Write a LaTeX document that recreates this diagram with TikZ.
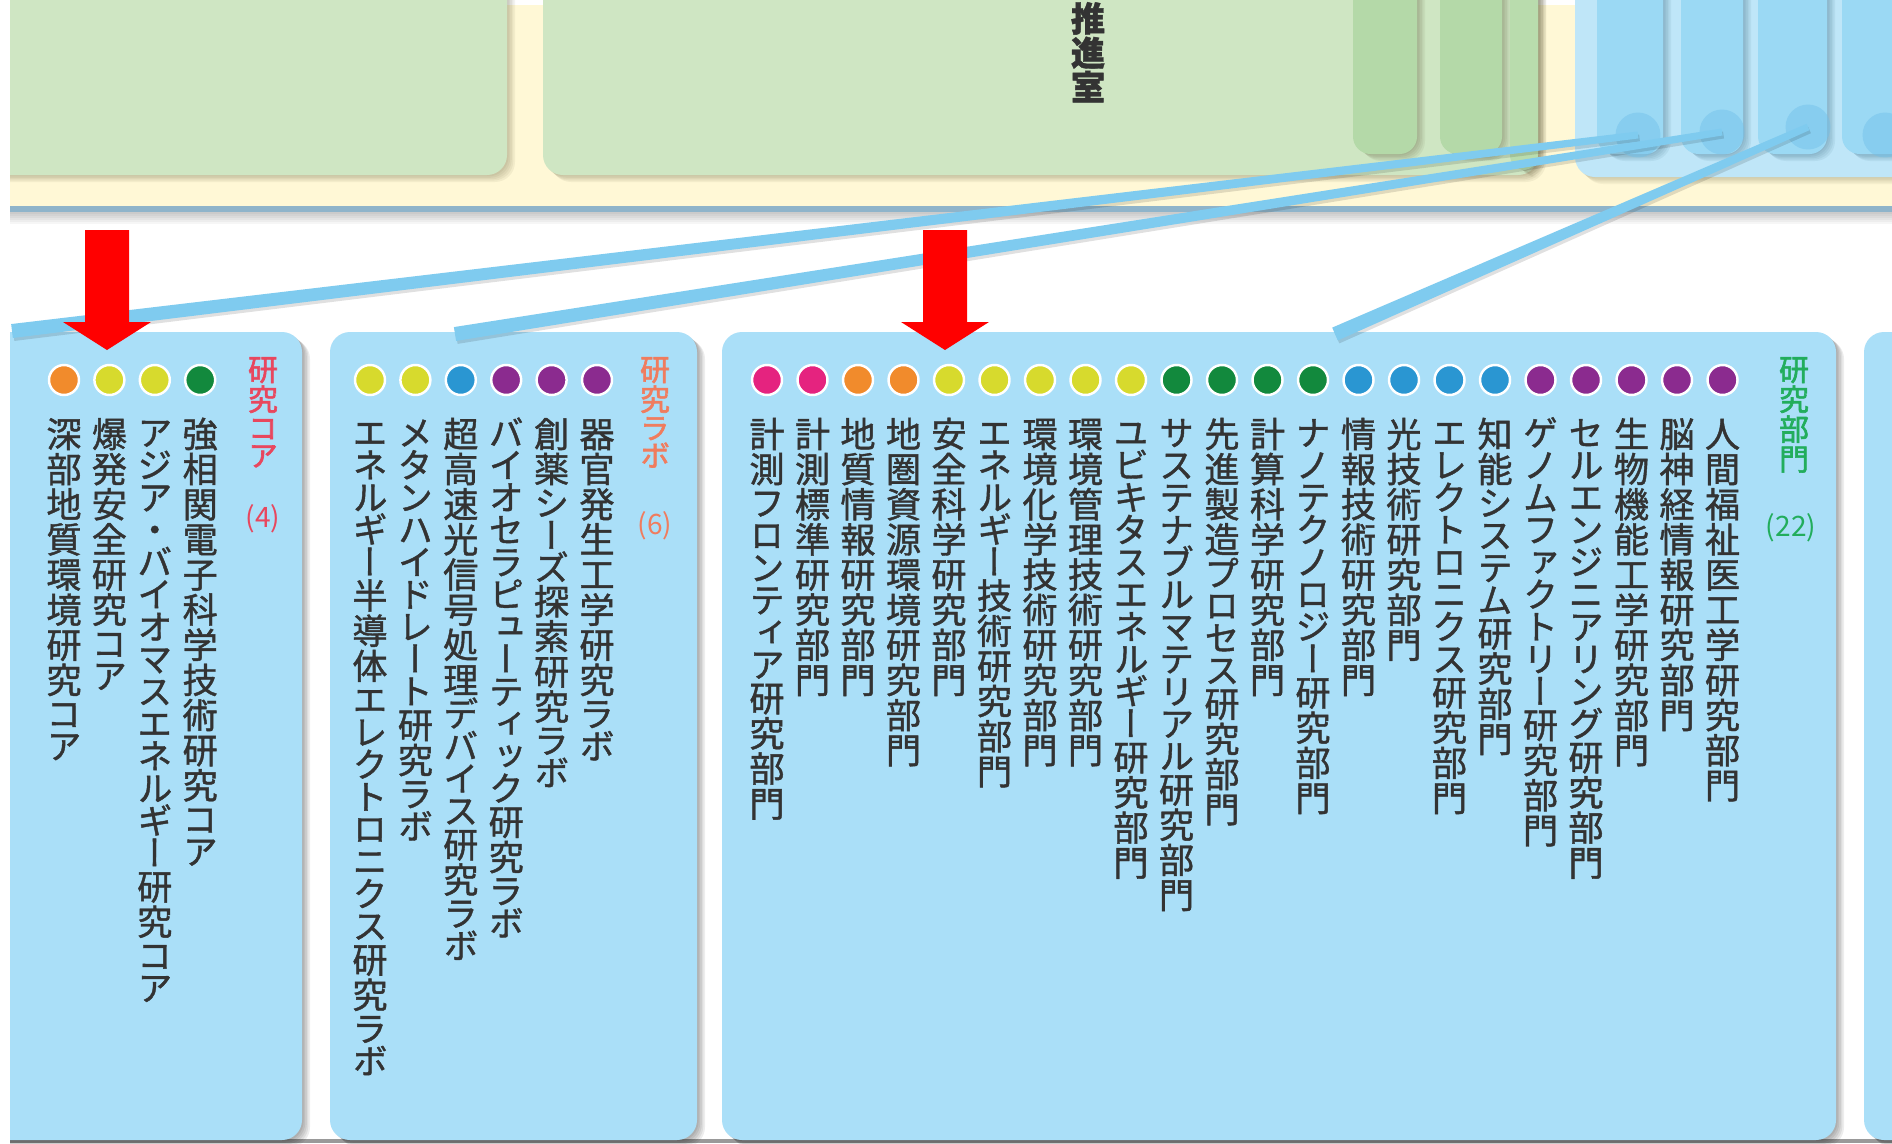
\documentclass[tikz,border=0pt]{standalone}
\usepackage{fontspec}
\usetikzlibrary{calc}
\newfontfamily\jp{Noto Sans CJK JP}
\newfontfamily\jpv[Script=CJK,RawFeature=+vert,FakeBold=1.2]{Noto Sans CJK JP}
\newfontfamily\jpvb[Script=CJK,RawFeature=+vert,FakeBold=2]{Noto Sans CJK JP}

\definecolor{bgyellow}{HTML}{FFF8D6}
\definecolor{bandline}{HTML}{8FB4CA}
\definecolor{grnbox}{HTML}{CFE6C3}
\definecolor{grncard}{HTML}{B4D9A8}
\definecolor{olive}{HTML}{5E5A3A}
\definecolor{bluebox}{HTML}{BFE6F8}
\definecolor{bluecard}{HTML}{9BD9F4}
\definecolor{blueshade}{HTML}{3F6F88}
\definecolor{blobblue}{HTML}{6FC0EA}
\definecolor{topblue}{HTML}{6DB9E7}
\definecolor{toptan}{HTML}{F5CD98}
\definecolor{panelblue}{HTML}{AADFF8}
\definecolor{connblue}{HTML}{7FCBEF}
\definecolor{txt}{HTML}{333333}
\definecolor{cpink}{HTML}{E5237F}
\definecolor{corange}{HTML}{F18B2C}
\definecolor{cyellow}{HTML}{D7DA2D}
\definecolor{cgreen}{HTML}{12893D}
\definecolor{cblue}{HTML}{2A96D2}
\definecolor{cpurple}{HTML}{8B2B8F}
\definecolor{hred}{HTML}{E8475E}
\definecolor{hsalmon}{HTML}{F07C5E}
\definecolor{hgreen}{HTML}{22AD5C}
\definecolor{arrowred}{HTML}{FF0000}

\ExplSyntaxOn
\tl_new:N \l_tatetext_tl
\dim_new:N \l_tatecell_dim
\NewDocumentCommand\tate{m}
  {
    \tl_set:Nx \l_tatetext_tl {#1}
    \vbox
      {
        \offinterlineskip
        \tl_map_inline:Nn \l_tatetext_tl
          {
            \int_compare:nTF { "30A0 < `##1 < "3100 }
              { \dim_set:Nn \l_tatecell_dim { 0.92em } }
              { \dim_set:Nn \l_tatecell_dim { 1em } }
            \vbox to \l_tatecell_dim
              {
                \skip_vertical:n { 0.5\l_tatecell_dim + 0.38em }
                \hbox to 1em { \hss \smash{##1} \hss }
                \vss
              }
          }
      }
  }
\ExplSyntaxOff

\newcommand\softshadow[6]{% color, opacity, x1,y1,x2,y2
  \foreach \k in {1,...,5}{\fill[#1, opacity=#2, rounded corners=0.4cm] (#3+\k*1.6,#4+\k*1.4) rectangle (#5+\k*1.6,#6+\k*1.4);}}
\newcommand\conn[2]{%
  \fill[black, opacity=0.12] ($(#1)!0.07cm!90:(#2)+(1.5,3)$) -- ($(#2)!0.14cm!-90:(#1)+(1.5,3)$) -- ($(#2)!0.14cm!90:(#1)+(1.5,3)$) -- ($(#1)!0.07cm!-90:(#2)+(1.5,3)$) -- cycle;
  \fill[connblue] ($(#1)!0.07cm!90:(#2)$) -- ($(#2)!0.14cm!-90:(#1)$) -- ($(#2)!0.14cm!90:(#1)$) -- ($(#1)!0.07cm!-90:(#2)$) -- cycle;}

\tikzset{
  kdot/.style={circle, fill=#1, draw=white, line width=1.4pt, minimum size=0.6cm, inner sep=0pt},
  vcol/.style={anchor=north, inner sep=0pt, text=txt, font=\jpv\fontsize{20}{20}\selectfont},
  vhead/.style={anchor=north, inner sep=0pt, text=#1, font=\jpvb\fontsize{17}{17}\selectfont},
  cnt/.style={inner sep=0pt, text=#1, font=\jp\fontsize{16}{16}\selectfont},
  panel/.style={fill=panelblue, rounded corners=0.4cm},
  blob/.style={circle, fill=blobblue, opacity=0.45, minimum size=0.9cm, inner sep=0pt},
  redarrow/.style={fill=arrowred},
}

\begin{document}
\begin{tikzpicture}[x=0.02cm,y=-0.02cm]
\useasboundingbox (0,0) rectangle (1892,1143);
\fill[white] (0,0) rectangle (1892,1143);
\begin{scope}
\clip (10,0) rectangle (1892,1143);
% ---- top cut-off shapes
\fill[topblue, rounded corners=0.3cm] (785,-40) rectangle (933,5);
\fill[topblue, rounded corners=0.3cm] (1038,-40) rectangle (1173,5);
\fill[toptan] (1306,-40) rectangle (1515,6);
% ---- yellow band
\fill[bgyellow] (0,5) rectangle (1892,207);
\foreach \k in {1,...,6} \fill[black, opacity=0.035] (0,212) rectangle (1892,212+\k*2);
\fill[bandline] (0,206) rectangle (1892,212);
% ---- green boxes
\softshadow{olive}{0.07}{-30}{-40}{507}{175}
\fill[grnbox, rounded corners=0.4cm] (-30,-40) rectangle (507,175);
\softshadow{olive}{0.07}{543}{-40}{1538}{175}
\fill[grnbox, rounded corners=0.4cm] (543,-40) rectangle (1538,175);
\softshadow{olive}{0.08}{1353}{-40}{1417}{154}
\fill[grncard, rounded corners=0.35cm] (1353,-40) rectangle (1417,154);
\softshadow{olive}{0.08}{1440}{-40}{1502}{154}
\fill[grncard, rounded corners=0.35cm] (1440,-40) rectangle (1502,154);
\softshadow{olive}{0.08}{1510}{-40}{1538}{170}
\fill[grncard!80!grnbox, rounded corners=0.3cm] (1510,-40) rectangle (1538,170);
% ---- blue box
\softshadow{olive}{0.06}{1575}{-40}{1920}{177}
\fill[bluebox, rounded corners=0.4cm] (1575,-40) rectangle (1920,177);
\foreach \a/\b in {1597/1663, 1681/1743, 1758/1827, 1842/1910}{
  \softshadow{blueshade}{0.09}{\a}{-40}{\b}{154}
  \fill[bluecard, rounded corners=0.35cm] (\a,-40) rectangle (\b,154);
}
\node[blob] (blob1) at (1638,135) {};
\node[blob] (blob2) at (1722,132) {};
\node[blob] (blob3) at (1808,127) {};
\node[blob] (blob4) at (1885,135) {};
% ---- title fragment
\node[anchor=north, inner sep=0pt, text=txt, font=\jpv\bfseries\fontsize{19.5}{19.5}\selectfont] (suishin) at (1088,1) {\tate{推進室}};
% ---- bottom line
\fill[black!40] (0,1139) rectangle (1892,1143);
% ---- panels
\softshadow{black}{0.07}{-30}{332}{302}{1140}
\fill[panel] (-30,332) rectangle (302,1140);
\softshadow{black}{0.07}{330}{332}{697}{1140}
\fill[panel] (330,332) rectangle (697,1140);
\softshadow{black}{0.07}{722}{332}{1836}{1140}
\fill[panel] (722,332) rectangle (1836,1140);
\softshadow{black}{0.07}{1864}{332}{1960}{1140}
\fill[panel] (1864,332) rectangle (1960,1140);
\coordinate (pA) at (12,331);
\coordinate (pB) at (455,334);
\coordinate (pC) at (1335,334);
% ---- connectors
\conn{blob1.center}{pA}
\conn{blob2.center}{pB}
\conn{blob3.center}{pC}
% ---- red arrows
\fill[redarrow] (85,230) -- (129,230) -- (129,322) -- (151,322) -- (107,350) -- (63,322) -- (85,322) -- cycle;
\fill[redarrow] (923,230) -- (967,230) -- (967,322) -- (989,322) -- (945,350) -- (901,322) -- (923,322) -- cycle;
% ---- panel 1: research cores
\foreach \i/\col/\lbl in {0/corange/深部地質環境研究コア, 1/cyellow/爆発安全研究コア, 2/cyellow/アジア・バイオマスエネルギー研究コア, 3/cgreen/強相関電子科学技術研究コア}{
  \node[kdot=\col] (pa-d\i) at (64+45.4*\i,380) {};
  \node[vcol] (pa-t\i) at (64+45.4*\i,416) {\tate{\lbl}};
}
\node[vhead=hred] (pa-head) at (263,354) {\tate{研究コア}};
\node[cnt=hred] (pa-cnt) at (263,519) {(4)};
% ---- panel 2: research labs
\foreach \i/\col/\lbl in {0/cyellow/エネルギー半導体エレクトロニクス研究ラボ, 1/cyellow/メタンハイドレート研究ラボ, 2/cblue/超高速光信号処理デバイス研究ラボ, 3/cpurple/バイオセラピューティック研究ラボ, 4/cpurple/創薬シーズ探索研究ラボ, 5/cpurple/器官発生工学研究ラボ}{
  \node[kdot=\col] (pb-d\i) at (370+45.4*\i,380) {};
  \node[vcol] (pb-t\i) at (370+45.4*\i,416) {\tate{\lbl}};
}
\node[vhead=hsalmon] (pb-head) at (655,354) {\tate{研究ラボ}};
\node[cnt=hsalmon] (pb-cnt) at (655,526) {(6)};
% ---- panel 3: research departments
\foreach \i/\col/\lbl in {0/cpink/計測フロンティア研究部門, 1/cpink/計測標準研究部門, 2/corange/地質情報研究部門, 3/corange/地圏資源環境研究部門, 4/cyellow/安全科学研究部門, 5/cyellow/エネルギー技術研究部門, 6/cyellow/環境化学技術研究部門, 7/cyellow/環境管理技術研究部門, 8/cyellow/ユビキタスエネルギー研究部門, 9/cgreen/サステナブルマテリアル研究部門, 10/cgreen/先進製造プロセス研究部門, 11/cgreen/計算科学研究部門, 12/cgreen/ナノテクノロジー研究部門, 13/cblue/情報技術研究部門, 14/cblue/光技術研究部門, 15/cblue/エレクトロニクス研究部門, 16/cblue/知能システム研究部門, 17/cpurple/ゲノムファクトリー研究部門, 18/cpurple/セルエンジニアリング研究部門, 19/cpurple/生物機能工学研究部門, 20/cpurple/脳神経情報研究部門, 21/cpurple/人間福祉医工学研究部門}{
  \node[kdot=\col] (pc-d\i) at (767+45.5*\i,380) {};
  \node[vcol] (pc-t\i) at (767+45.5*\i,416) {\tate{\lbl}};
}
\node[vhead=hgreen] (pc-head) at (1794,354) {\tate{研究部門}};
\node[cnt=hgreen] (pc-cnt) at (1791,528) {(22)};
\end{scope}
\end{tikzpicture}
\end{document}
